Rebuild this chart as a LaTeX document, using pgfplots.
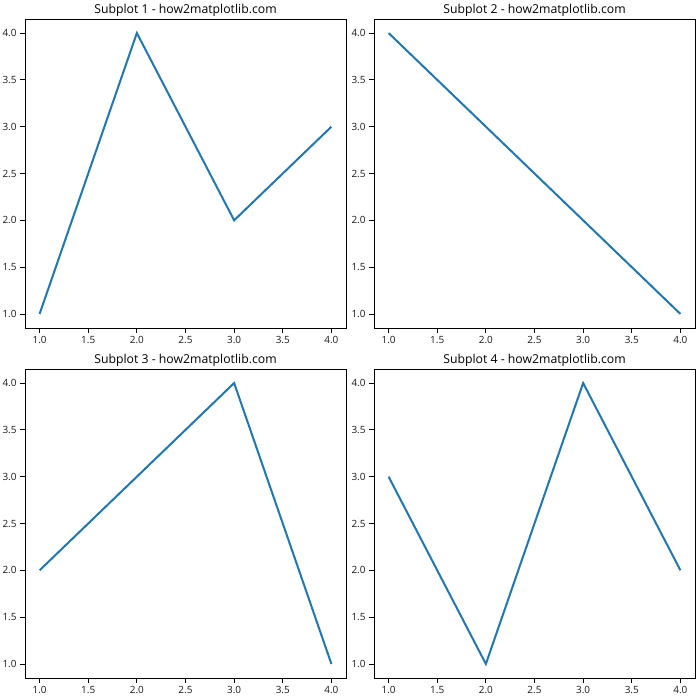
\documentclass[border=0pt]{standalone}
\usepackage{pgfplots}
\pgfplotsset{compat=1.18}
\usepackage{fontspec}
\setmainfont{Open Sans}
\definecolor{tabblue}{HTML}{1F77B4}
\pgfplotsset{
  sub/.style={
    scale only axis, width=321bp, height=309bp,
    anchor=south west,
    xmin=0.85, xmax=4.15, ymin=0.85, ymax=4.15,
    xtick={1,1.5,2,2.5,3,3.5,4}, ytick={1,1.5,2,2.5,3,3.5,4},
    tick align=outside, tick pos=left,
    major tick length=4.9bp,
    every tick/.style={black, line width=0.8bp},
    axis line style={line width=0.8bp, black},
    xticklabel style={/pgf/number format/.cd, fixed, fixed zerofill, precision=1, assume math mode=true},
    yticklabel style={/pgf/number format/.cd, fixed, fixed zerofill, precision=1, assume math mode=true},
    tick label style={font=\fontsize{10}{12}\selectfont, text=black!90},
    title style={font=\fontsize{12.3}{14}\selectfont, at={(0.5,1)}, anchor=base, inner sep=0pt, yshift=-0.5bp},
  }
}
\begin{document}
\begin{tikzpicture}
\useasboundingbox (0bp,0bp) rectangle (700bp,700bp);
\begin{axis}[sub, at={(25bp,372bp)}, title={Subplot 1 - how2matplotlib.com}]
\addplot[tabblue, line width=2bp] coordinates {(1,1) (2,4) (3,2) (4,3)};
\end{axis}
\begin{axis}[sub, at={(374bp,372bp)}, title={Subplot 2 - how2matplotlib.com}]
\addplot[tabblue, line width=2bp] coordinates {(1,4) (2,3) (3,2) (4,1)};
\end{axis}
\begin{axis}[sub, at={(25bp,22bp)}, title={Subplot 3 - how2matplotlib.com}]
\addplot[tabblue, line width=2bp] coordinates {(1,2) (2,3) (3,4) (4,1)};
\end{axis}
\begin{axis}[sub, at={(374bp,22bp)}, title={Subplot 4 - how2matplotlib.com}]
\addplot[tabblue, line width=2bp] coordinates {(1,3) (2,1) (3,4) (4,2)};
\end{axis}
\end{tikzpicture}
\end{document}
